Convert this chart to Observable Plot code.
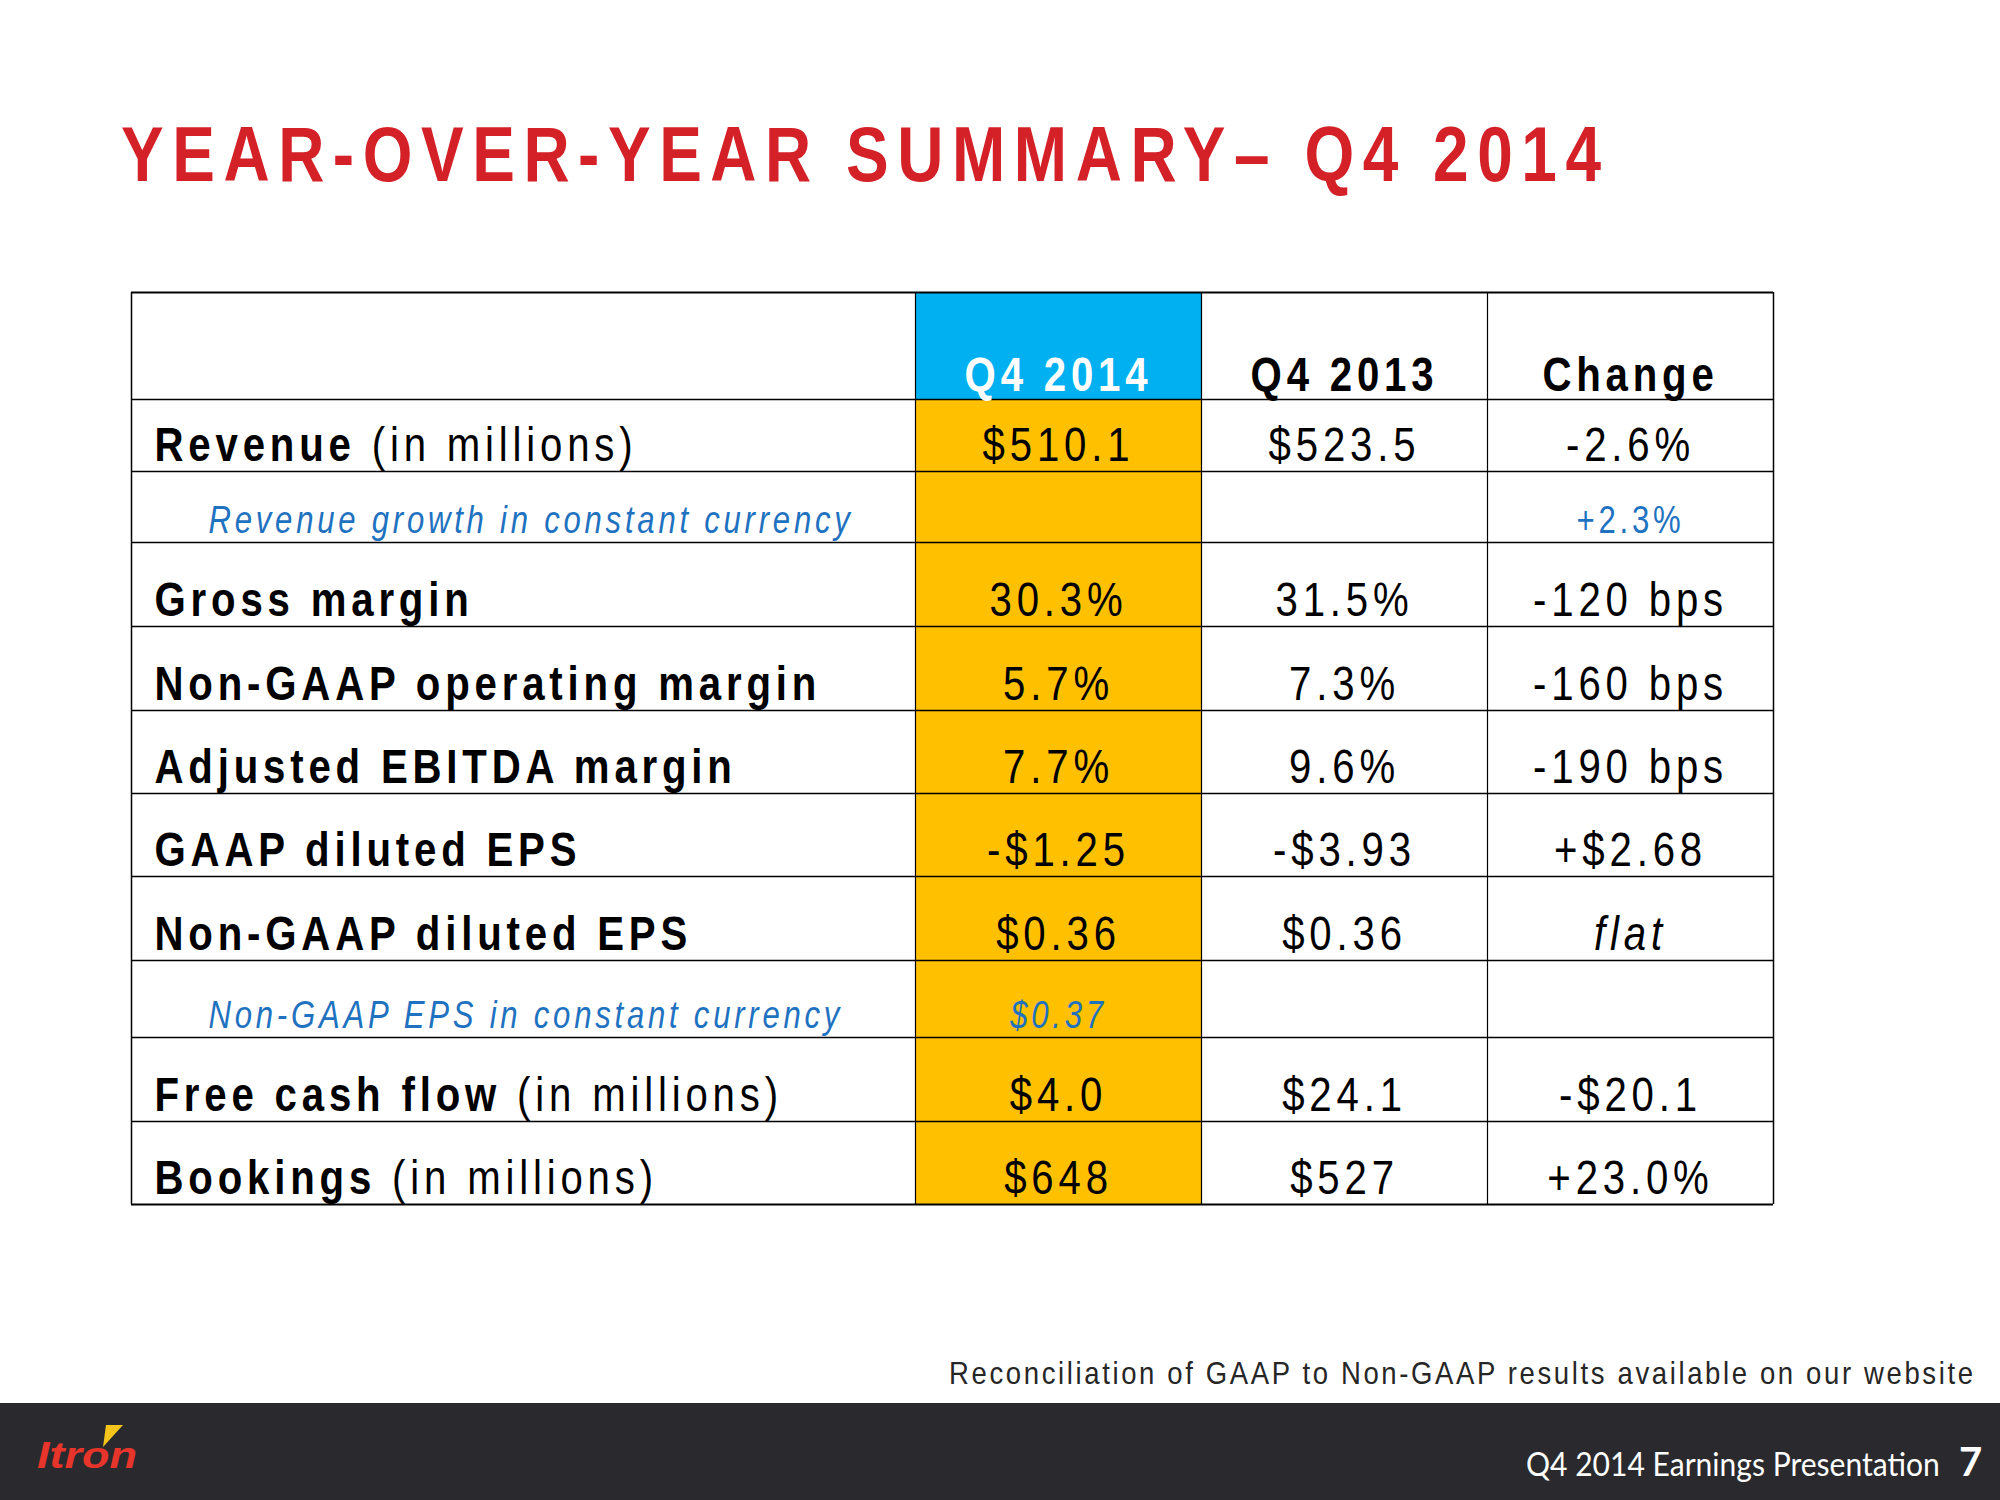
<!DOCTYPE html>
<html><head><meta charset="utf-8">
<script src="https://cdn.jsdelivr.net/npm/d3@7"></script>
<script src="https://cdn.jsdelivr.net/npm/@observablehq/plot@0.6"></script>
<style>
html,body{margin:0;padding:0;background:#fff;}
#page{position:relative;width:2000px;height:1500px;overflow:hidden;background:#fff;}
#deco{position:absolute;left:0;top:0;}
#chart{position:absolute;left:0;top:200px;}
#chart text{letter-spacing:0.12em;}
</style></head>
<body><div id="page"><svg id="deco" width="2000" height="1500" xmlns="http://www.w3.org/2000/svg"></svg><div id="chart"></div></div>
<script>
// ---------------- DATA ----------------
const columns = ["Q4 2014", "Q4 2013", "Change"];
const metrics = ["Revenue", "Revenue growth in constant currency", "Gross margin", "Non-GAAP operating margin",
  "Adjusted EBITDA margin", "GAAP diluted EPS", "Non-GAAP diluted EPS", "Non-GAAP EPS in constant currency",
  "Free cash flow", "Bookings"];
const metricNotes = ["(in millions)", "", "", "", "", "", "", "", "(in millions)", "(in millions)"];
const isSubRow = [false, true, false, false, false, false, false, true, false, false];
const q4_2014 = ["$510.1", "", "30.3%", "5.7%", "7.7%", "-$1.25", "$0.36", "$0.37", "$4.0", "$648"];
const q4_2013 = ["$523.5", "", "31.5%", "7.3%", "9.6%", "-$3.93", "$0.36", "", "$24.1", "$527"];
const change = ["-2.6%", "+2.3%", "-120 bps", "-160 bps", "-190 bps", "+$2.68", "flat", "", "-$20.1", "+23.0%"];
const titleText = "YEAR-OVER-YEAR SUMMARY\u2013 Q4 2014";
const footnoteText = "Reconciliation of GAAP to Non-GAAP results available on our website";
const footerLabel = "Q4 2014 Earnings Presentation";
const pageNumber = "7";
const logoText = "Itron";

// ---------------- LAYOUT / STYLE ----------------
const colWidths = [784, 286, 286, 286];
const rowHeights = [107, 72, 71, 84, 84, 83, 83, 84, 77, 84, 83];
const BLUE_HEAD = "#00B0F0", ORANGE = "#FFC000", SUB_BLUE = "#1f72bf", RED = "#d42027";
const FONT = "'Liberation Sans', Arial, sans-serif";
const SQUEEZE = 0.82; // narrow, tracked-out look of the original typeface

const colEdges = Array.from(d3.cumsum([0, ...colWidths]));
const rowEdges = Array.from(d3.cumsum([0, ...rowHeights]));
const totalW = colEdges[colEdges.length - 1], totalH = rowEdges[rowEdges.length - 1];
const colCenter = c => (colEdges[c] + colEdges[c + 1]) / 2;

// cells
const cells = [];
for (let r = 0; r < rowHeights.length; r++) {
  for (let c = 0; c < colWidths.length; c++) {
    cells.push({x1: colEdges[c], x2: colEdges[c + 1], y1: rowEdges[r], y2: rowEdges[r + 1],
      fill: c === 1 ? (r === 0 ? BLUE_HEAD : ORANGE) : "white"});
  }
}
// header
const header = columns.map((t, i) => ({x: colCenter(i + 1), y: rowEdges[1] - 9, text: t, fill: i === 0 ? "white" : "black"}));
// labels
const labels = metrics.map((m, r) => ({
  text: metricNotes[r] ? m + " " + metricNotes[r] : m, main: m, note: metricNotes[r], sub: isSubRow[r],
  x: isSubRow[r] ? 77 : 23, y: rowEdges[r + 2] - (isSubRow[r] ? 10 : 11)
}));
// values
const values = [];
[q4_2014, q4_2013, change].forEach((col, c) => {
  col.forEach((v, r) => {
    if (!v) return;
    const sub = isSubRow[r];
    values.push({x: colCenter(c + 1), y: rowEdges[r + 2] - (sub ? 10 : 11), text: v,
      fill: sub ? SUB_BLUE : "black", size: sub ? 38 : 49,
      italic: (sub && c === 0) || !/\d/.test(v)});
  });
});

const hLines = rowEdges.map((y, i) => ({y, w: (i === 0 || i === rowEdges.length - 1) ? 2 : 1.5}));
const vLines = colEdges.map((x, i) => ({x, w: (i === 0 || i === colEdges.length - 1) ? 1.5 : 1.2}));

const chart = Plot.plot({
  width: 2000, height: 1012,
  marginTop: 92, marginBottom: 8, marginLeft: 131, marginRight: 2000 - 131 - totalW,
  x: {domain: [0, totalW], axis: null},
  y: {domain: [0, totalH], reverse: true, axis: null},
  color: {type: "identity"},
  style: {fontFamily: FONT, background: "transparent", overflow: "visible"},
  marks: [
    Plot.rect(cells, {x1: "x1", x2: "x2", y1: "y1", y2: "y2", fill: "fill", inset: 0}),
    Plot.ruleX(vLines, {x: "x", y1: 0, y2: totalH, stroke: "black", strokeWidth: "w"}),
    Plot.ruleY(hLines, {y: "y", x1: 0, x2: totalW, stroke: "black", strokeWidth: "w"}),
    Plot.text(header, {x: "x", y: "y", text: "text", fill: "fill", fontSize: 49, fontWeight: "bold", lineAnchor: "bottom"}),
    Plot.text(labels.filter(d => !d.sub), {x: "x", y: "y", text: "text", fill: "black", fontSize: 49, fontWeight: "bold", textAnchor: "start", lineAnchor: "bottom"}),
    Plot.text(labels.filter(d => d.sub), {x: "x", y: "y", text: "text", fill: SUB_BLUE, fontSize: 38, fontStyle: "italic", textAnchor: "start", lineAnchor: "bottom"}),
    Plot.text(values.filter(d => !d.italic), {x: "x", y: "y", text: "text", fill: "fill", fontSize: "size", lineAnchor: "bottom"}),
    Plot.text(values.filter(d => d.italic), {x: "x", y: "y", text: "text", fill: "fill", fontSize: "size", fontStyle: "italic", lineAnchor: "bottom"})
  ]
});
document.getElementById("chart").appendChild(chart);

const NS = "http://www.w3.org/2000/svg";
chart.querySelectorAll("text").forEach(t => {
  // bold metric name + regular "(in millions)"
  const d = labels.find(l => l.note && l.text === t.textContent);
  if (d) {
    t.textContent = "";
    const a = document.createElementNS(NS, "tspan"); a.textContent = d.main + " ";
    const b = document.createElementNS(NS, "tspan"); b.textContent = d.note; b.setAttribute("font-weight", "normal");
    t.append(a, b);
  }
  // narrow glyphs, anchored at the text's own position
  const tr = t.getAttribute("transform") || "";
  t.setAttribute("transform", tr + ` scale(${SQUEEZE},1)`);
});

// ---------------- DECORATION (title, footnote, footer) ----------------
const deco = d3.select("#deco");
// place a text at (x, baseline y), squeezed horizontally, then tracked out to reach a target width
function tracked(sel, x, y, squeeze, target) {
  sel.attr("transform", `translate(${x},${y}) scale(${squeeze},1)`);
  const n = sel.text().length;
  const w = sel.node().getComputedTextLength();
  sel.style("letter-spacing", ((target / squeeze - w) / (n - 1)) + "px");
  return sel;
}
// place a text and scale it to a target width
function scaled(sel, x, y, target) {
  const w = sel.node().getComputedTextLength();
  sel.attr("transform", `translate(${x},${y}) scale(${target / w},1)`);
  return sel;
}
tracked(deco.append("text").attr("fill", RED).attr("font-family", FONT).attr("font-weight", "bold")
  .attr("font-size", 78).text(titleText), 121, 181, SQUEEZE, 1480);
tracked(deco.append("text").attr("fill", "#262626").attr("font-family", FONT)
  .attr("font-size", 32).text(footnoteText), 949, 1384, 0.86, 1024);
deco.append("rect").attr("x", 0).attr("y", 1403).attr("width", 2000).attr("height", 97).attr("fill", "#2a2a2e");
scaled(deco.append("text").attr("fill", "white").attr("font-family", "Lato, 'Open Sans', sans-serif")
  .attr("font-size", 33).text(footerLabel), 1526, 1476, 414);
deco.append("text").attr("x", 1959).attr("y", 1476).attr("fill", "white")
  .attr("font-family", "Lato, 'Open Sans', sans-serif").attr("font-weight", "bold").attr("font-size", 40).text(pageNumber);
scaled(deco.append("text").attr("fill", "#e8352b").attr("font-family", FONT).attr("font-weight", "900")
  .attr("font-style", "italic").attr("font-size", 36).text(logoText), 37, 1468, 100);
deco.append("polygon").attr("points", "106,1425 123,1425 103,1447").attr("fill", "#f6c51b");
</script>
</body></html>
